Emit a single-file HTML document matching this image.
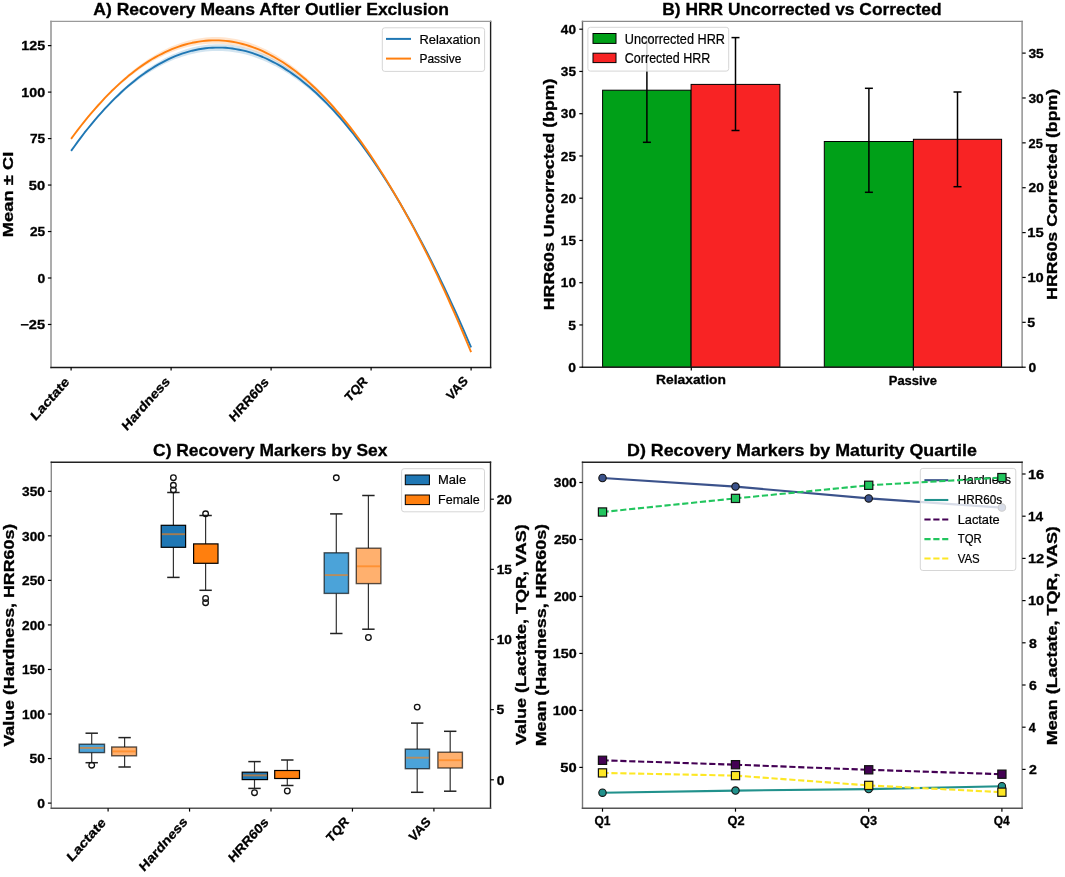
<!DOCTYPE html><html><head><meta charset="utf-8"><style>html,body{margin:0;padding:0;background:#fff;overflow:hidden}svg{display:block;will-change:transform;filter:blur(0.3px)}text{font-family:"Liberation Sans",sans-serif}</style></head><body>
<svg width="1065" height="877" viewBox="0 0 1065 877">
<rect width="1065" height="877" fill="#fff"/>
<polygon points="71.1,150.3 74.5,145.5 77.8,140.9 81.2,136.4 84.5,131.9 87.9,127.6 91.3,123.4 94.6,119.3 98.0,115.3 101.4,111.4 104.7,107.6 108.1,104.0 111.4,100.4 114.8,96.9 118.2,93.6 121.5,90.3 124.9,87.2 128.2,84.2 131.6,81.3 135.0,78.4 138.3,75.8 141.7,73.2 145.0,70.7 148.4,68.3 151.8,66.1 155.1,63.9 158.5,61.9 161.9,60.0 165.2,58.1 168.6,56.4 171.9,54.8 175.3,53.4 178.7,52.0 182.0,50.7 185.4,49.6 188.7,48.5 192.1,47.6 195.5,46.8 198.8,46.1 202.2,45.5 205.6,45.0 208.9,44.6 212.3,44.4 215.6,44.2 219.0,44.2 222.4,44.3 225.7,44.4 229.1,44.7 232.4,45.1 235.8,45.7 239.2,46.3 242.5,47.0 245.9,47.9 249.3,48.8 252.6,49.9 256.0,51.1 259.3,52.4 262.7,53.8 266.1,55.3 269.4,56.9 272.8,58.6 276.1,60.5 279.5,62.4 282.9,64.5 286.2,66.7 289.6,68.9 292.9,71.3 296.3,73.8 299.7,76.4 303.0,79.1 306.4,82.0 309.8,84.9 313.1,87.9 316.5,91.1 319.8,94.3 323.2,97.7 326.6,101.1 329.9,104.7 333.3,108.4 336.6,112.2 340.0,116.0 343.4,120.0 346.7,124.1 350.1,128.3 353.5,132.6 356.8,137.1 360.2,141.6 363.5,146.2 366.9,150.9 370.3,155.7 373.6,160.6 377.0,165.7 380.3,170.8 383.7,176.0 387.1,181.3 390.4,186.7 393.8,192.2 397.2,197.8 400.5,203.5 403.9,209.3 407.2,215.2 410.6,221.2 414.0,227.3 417.3,233.5 420.7,239.8 424.0,246.2 427.4,252.7 430.8,259.3 434.1,266.0 437.5,272.9 440.8,279.8 444.2,286.8 447.6,294.0 450.9,301.2 454.3,308.5 457.7,316.0 461.0,323.5 464.4,331.2 467.7,338.9 471.1,346.8 471.1,348.0 467.7,340.1 464.4,332.4 461.0,324.7 457.7,317.2 454.3,309.7 450.9,302.4 447.6,295.2 444.2,288.0 440.8,281.0 437.5,274.1 434.1,267.2 430.8,260.5 427.4,253.9 424.0,247.4 420.7,241.0 417.3,234.7 414.0,228.5 410.6,222.4 407.2,216.4 403.9,210.5 400.5,204.7 397.2,199.0 393.8,193.4 390.4,187.9 387.1,182.6 383.7,177.4 380.3,172.3 377.0,167.3 373.6,162.4 370.3,157.6 366.9,152.9 363.5,148.4 360.2,143.9 356.8,139.6 353.5,135.3 350.1,131.2 346.7,127.2 343.4,123.2 340.0,119.4 336.6,115.7 333.3,112.1 329.9,108.6 326.6,105.2 323.2,101.9 319.8,98.7 316.5,95.6 313.1,92.6 309.8,89.7 306.4,86.9 303.0,84.3 299.7,81.7 296.3,79.2 292.9,76.9 289.6,74.6 286.2,72.5 282.9,70.4 279.5,68.4 276.1,66.6 272.8,64.9 269.4,63.2 266.1,61.7 262.7,60.2 259.3,58.9 256.0,57.7 252.6,56.5 249.3,55.5 245.9,54.6 242.5,53.8 239.2,53.1 235.8,52.5 232.4,51.9 229.1,51.5 225.7,51.2 222.4,51.0 219.0,50.9 215.6,50.9 212.3,51.0 208.9,51.3 205.6,51.6 202.2,52.0 198.8,52.5 195.5,53.2 192.1,53.9 188.7,54.7 185.4,55.7 182.0,56.7 178.7,57.9 175.3,59.1 171.9,60.5 168.6,61.9 165.2,63.5 161.9,65.2 158.5,67.0 155.1,68.9 151.8,70.9 148.4,73.0 145.0,75.2 141.7,77.5 138.3,79.9 135.0,82.4 131.6,85.1 128.2,87.8 124.9,90.7 121.5,93.7 118.2,96.7 114.8,99.9 111.4,103.2 108.1,106.6 104.7,110.1 101.4,113.7 98.0,117.5 94.6,121.3 91.3,125.3 87.9,129.4 84.5,133.5 81.2,137.8 77.8,142.3 74.5,146.8 71.1,151.5" fill="#1f77b4" fill-opacity="0.2"/>
<polygon points="71.1,138.3 74.5,133.7 77.8,129.2 81.2,124.8 84.5,120.5 87.9,116.3 91.3,112.2 94.6,108.2 98.0,104.4 101.4,100.6 104.7,96.9 108.1,93.4 111.4,89.9 114.8,86.6 118.2,83.4 121.5,80.2 124.9,77.2 128.2,74.3 131.6,71.5 135.0,68.8 138.3,66.2 141.7,63.7 145.0,61.4 148.4,59.1 151.8,56.9 155.1,54.9 158.5,53.0 161.9,51.1 165.2,49.4 168.6,47.8 171.9,46.3 175.3,45.0 178.7,43.7 182.0,42.5 185.4,41.5 188.7,40.5 192.1,39.7 195.5,39.0 198.8,38.4 202.2,37.9 205.6,37.5 208.9,37.2 212.3,37.1 215.6,37.0 219.0,37.1 222.4,37.2 225.7,37.5 229.1,37.9 232.4,38.4 235.8,39.0 239.2,39.8 242.5,40.6 245.9,41.6 249.3,42.6 252.6,43.8 256.0,45.1 259.3,46.5 262.7,48.0 266.1,49.6 269.4,51.3 272.8,53.2 276.1,55.1 279.5,57.2 282.9,59.4 286.2,61.6 289.6,64.0 292.9,66.5 296.3,69.1 299.7,71.9 303.0,74.7 306.4,77.6 309.8,80.7 313.1,83.9 316.5,87.1 319.8,90.5 323.2,94.0 326.6,97.6 329.9,101.3 333.3,105.1 336.6,109.0 340.0,113.0 343.4,117.2 346.7,121.4 350.1,125.8 353.5,130.2 356.8,134.8 360.2,139.5 363.5,144.2 366.9,149.1 370.3,154.1 373.6,159.2 377.0,164.4 380.3,169.7 383.7,175.0 387.1,180.5 390.4,186.1 393.8,191.8 397.2,197.6 400.5,203.4 403.9,209.4 407.2,215.5 410.6,221.7 414.0,228.0 417.3,234.4 420.7,240.9 424.0,247.5 427.4,254.3 430.8,261.1 434.1,268.0 437.5,275.1 440.8,282.3 444.2,289.5 447.6,296.9 450.9,304.4 454.3,312.0 457.7,319.7 461.0,327.5 464.4,335.4 467.7,343.4 471.1,351.5 471.1,352.7 467.7,344.6 464.4,336.6 461.0,328.7 457.7,320.9 454.3,313.2 450.9,305.6 447.6,298.1 444.2,290.7 440.8,283.5 437.5,276.3 434.1,269.2 430.8,262.3 427.4,255.5 424.0,248.7 420.7,242.1 417.3,235.6 414.0,229.2 410.6,222.9 407.2,216.7 403.9,210.6 400.5,204.6 397.2,198.8 393.8,193.0 390.4,187.3 387.1,181.8 383.7,176.4 380.3,171.2 377.0,166.0 373.6,160.9 370.3,156.0 366.9,151.2 363.5,146.4 360.2,141.8 356.8,137.3 353.5,132.9 350.1,128.6 346.7,124.4 343.4,120.4 340.0,116.4 336.6,112.6 333.3,108.8 329.9,105.2 326.6,101.6 323.2,98.2 319.8,94.9 316.5,91.6 313.1,88.5 309.8,85.5 306.4,82.6 303.0,79.8 299.7,77.1 296.3,74.6 292.9,72.1 289.6,69.7 286.2,67.4 282.9,65.3 279.5,63.2 276.1,61.2 272.8,59.4 269.4,57.6 266.1,56.0 262.7,54.4 259.3,53.0 256.0,51.7 252.6,50.4 249.3,49.3 245.9,48.3 242.5,47.4 239.2,46.5 235.8,45.8 232.4,45.2 229.1,44.7 225.7,44.3 222.4,44.0 219.0,43.8 215.6,43.7 212.3,43.7 208.9,43.8 205.6,44.1 202.2,44.4 198.8,44.8 195.5,45.3 192.1,46.0 188.7,46.7 185.4,47.6 182.0,48.5 178.7,49.6 175.3,50.7 171.9,52.0 168.6,53.3 165.2,54.8 161.9,56.4 158.5,58.1 155.1,59.8 151.8,61.7 148.4,63.7 145.0,65.8 141.7,68.1 138.3,70.4 135.0,72.8 131.6,75.3 128.2,78.0 124.9,80.7 121.5,83.6 118.2,86.5 114.8,89.6 111.4,92.8 108.1,96.0 104.7,99.4 101.4,102.9 98.0,106.5 94.6,110.3 91.3,114.1 87.9,118.0 84.5,122.1 81.2,126.3 77.8,130.5 74.5,134.9 71.1,139.5" fill="#ff7f0e" fill-opacity="0.2"/>
<polyline fill="none" stroke="#1f77b4" stroke-width="1.9" stroke-linejoin="round" points="71.1,150.9 74.5,146.2 77.8,141.6 81.2,137.1 84.5,132.7 87.9,128.5 91.3,124.4 94.6,120.3 98.0,116.4 101.4,112.6 104.7,108.9 108.1,105.3 111.4,101.8 114.8,98.4 118.2,95.2 121.5,92.0 124.9,88.9 128.2,86.0 131.6,83.2 135.0,80.4 138.3,77.8 141.7,75.3 145.0,72.9 148.4,70.6 151.8,68.5 155.1,66.4 158.5,64.4 161.9,62.6 165.2,60.8 168.6,59.2 171.9,57.7 175.3,56.2 178.7,54.9 182.0,53.7 185.4,52.6 188.7,51.6 192.1,50.7 195.5,50.0 198.8,49.3 202.2,48.7 205.6,48.3 208.9,47.9 212.3,47.7 215.6,47.6 219.0,47.6 222.4,47.6 225.7,47.8 229.1,48.1 232.4,48.5 235.8,49.1 239.2,49.7 242.5,50.4 245.9,51.2 249.3,52.2 252.6,53.2 256.0,54.4 259.3,55.6 262.7,57.0 266.1,58.5 269.4,60.1 272.8,61.8 276.1,63.5 279.5,65.4 282.9,67.4 286.2,69.6 289.6,71.8 292.9,74.1 296.3,76.5 299.7,79.1 303.0,81.7 306.4,84.5 309.8,87.3 313.1,90.3 316.5,93.3 319.8,96.5 323.2,99.8 326.6,103.2 329.9,106.6 333.3,110.2 336.6,113.9 340.0,117.7 343.4,121.6 346.7,125.6 350.1,129.8 353.5,134.0 356.8,138.3 360.2,142.7 363.5,147.3 366.9,151.9 370.3,156.7 373.6,161.5 377.0,166.5 380.3,171.5 383.7,176.7 387.1,182.0 390.4,187.3 393.8,192.8 397.2,198.4 400.5,204.1 403.9,209.9 407.2,215.8 410.6,221.8 414.0,227.9 417.3,234.1 420.7,240.4 424.0,246.8 427.4,253.3 430.8,259.9 434.1,266.6 437.5,273.5 440.8,280.4 444.2,287.4 447.6,294.6 450.9,301.8 454.3,309.1 457.7,316.6 461.0,324.1 464.4,331.8 467.7,339.5 471.1,347.4"/>
<polyline fill="none" stroke="#ff7f0e" stroke-width="1.9" stroke-linejoin="round" points="71.1,138.9 74.5,134.3 77.8,129.9 81.2,125.5 84.5,121.3 87.9,117.2 91.3,113.2 94.6,109.3 98.0,105.5 101.4,101.8 104.7,98.2 108.1,94.7 111.4,91.3 114.8,88.1 118.2,84.9 121.5,81.9 124.9,79.0 128.2,76.1 131.6,73.4 135.0,70.8 138.3,68.3 141.7,65.9 145.0,63.6 148.4,61.4 151.8,59.3 155.1,57.4 158.5,55.5 161.9,53.8 165.2,52.1 168.6,50.6 171.9,49.2 175.3,47.8 178.7,46.6 182.0,45.5 185.4,44.5 188.7,43.6 192.1,42.8 195.5,42.2 198.8,41.6 202.2,41.1 205.6,40.8 208.9,40.5 212.3,40.4 215.6,40.4 219.0,40.4 222.4,40.6 225.7,40.9 229.1,41.3 232.4,41.8 235.8,42.4 239.2,43.2 242.5,44.0 245.9,44.9 249.3,46.0 252.6,47.1 256.0,48.4 259.3,49.7 262.7,51.2 266.1,52.8 269.4,54.5 272.8,56.3 276.1,58.2 279.5,60.2 282.9,62.3 286.2,64.5 289.6,66.9 292.9,69.3 296.3,71.8 299.7,74.5 303.0,77.3 306.4,80.1 309.8,83.1 313.1,86.2 316.5,89.4 319.8,92.7 323.2,96.1 326.6,99.6 329.9,103.2 333.3,107.0 336.6,110.8 340.0,114.7 343.4,118.8 346.7,122.9 350.1,127.2 353.5,131.6 356.8,136.0 360.2,140.6 363.5,145.3 366.9,150.1 370.3,155.0 373.6,160.1 377.0,165.2 380.3,170.4 383.7,175.7 387.1,181.2 390.4,186.7 393.8,192.4 397.2,198.2 400.5,204.0 403.9,210.0 407.2,216.1 410.6,222.3 414.0,228.6 417.3,235.0 420.7,241.5 424.0,248.1 427.4,254.9 430.8,261.7 434.1,268.6 437.5,275.7 440.8,282.9 444.2,290.1 447.6,297.5 450.9,305.0 454.3,312.6 457.7,320.3 461.0,328.1 464.4,336.0 467.7,344.0 471.1,352.1"/>
<line x1="51.0" y1="20.7" x2="51.0" y2="368.15" stroke="#8a8a8a" stroke-width="1.4"/>
<line x1="490.6" y1="20.7" x2="490.6" y2="368.15" stroke="#1e1e1e" stroke-width="1.4"/>
<line x1="50.3" y1="21.4" x2="491.3" y2="21.4" stroke="#9a9a9a" stroke-width="1.4"/>
<line x1="50.3" y1="367.45" x2="491.3" y2="367.45" stroke="#1a1a1a" stroke-width="1.4"/>
<line x1="47.90" y1="324.48" x2="51.30" y2="324.48" stroke="#000" stroke-width="1.2"/>
<line x1="47.90" y1="278.00" x2="51.30" y2="278.00" stroke="#000" stroke-width="1.2"/>
<line x1="47.90" y1="231.53" x2="51.30" y2="231.53" stroke="#000" stroke-width="1.2"/>
<line x1="47.90" y1="185.05" x2="51.30" y2="185.05" stroke="#000" stroke-width="1.2"/>
<line x1="47.90" y1="138.57" x2="51.30" y2="138.57" stroke="#000" stroke-width="1.2"/>
<line x1="47.90" y1="92.10" x2="51.30" y2="92.10" stroke="#000" stroke-width="1.2"/>
<line x1="47.90" y1="45.62" x2="51.30" y2="45.62" stroke="#000" stroke-width="1.2"/>
<line x1="71.10" y1="367.20" x2="71.10" y2="370.60" stroke="#000" stroke-width="1.2"/>
<line x1="171.10" y1="367.20" x2="171.10" y2="370.60" stroke="#000" stroke-width="1.2"/>
<line x1="271.10" y1="367.20" x2="271.10" y2="370.60" stroke="#000" stroke-width="1.2"/>
<line x1="371.10" y1="367.20" x2="371.10" y2="370.60" stroke="#000" stroke-width="1.2"/>
<line x1="471.10" y1="367.20" x2="471.10" y2="370.60" stroke="#000" stroke-width="1.2"/>
<rect x="382.3" y="27.8" width="102.3" height="43.6" rx="2.5" fill="#fff" fill-opacity="0.8" stroke="#d6d6d6" stroke-width="1"/>
<line x1="386.00" y1="38.90" x2="411.00" y2="38.90" stroke="#1f77b4" stroke-width="2"/>
<line x1="386.00" y1="58.60" x2="411.00" y2="58.60" stroke="#ff7f0e" stroke-width="2"/>
<text x="271.16" y="15.00" font-size="16.2" font-weight="bold" text-anchor="middle" textLength="355.58" lengthAdjust="spacingAndGlyphs" stroke="#000" stroke-width="0.3">A) Recovery Means After Outlier Exclusion</text>
<text x="45.11" y="329.18" font-size="12.5" font-weight="bold" text-anchor="end" textLength="24.77" lengthAdjust="spacingAndGlyphs" stroke="#000" stroke-width="0.3">−25</text>
<text x="45.25" y="282.70" font-size="12.5" font-weight="bold" text-anchor="end" textLength="7.73" lengthAdjust="spacingAndGlyphs" stroke="#000" stroke-width="0.3">0</text>
<text x="45.11" y="236.22" font-size="12.5" font-weight="bold" text-anchor="end" textLength="15.20" lengthAdjust="spacingAndGlyphs" stroke="#000" stroke-width="0.3">25</text>
<text x="45.14" y="189.75" font-size="12.5" font-weight="bold" text-anchor="end" textLength="16.28" lengthAdjust="spacingAndGlyphs" stroke="#000" stroke-width="0.3">50</text>
<text x="45.11" y="143.27" font-size="12.5" font-weight="bold" text-anchor="end" textLength="15.20" lengthAdjust="spacingAndGlyphs" stroke="#000" stroke-width="0.3">75</text>
<text x="45.16" y="96.80" font-size="12.5" font-weight="bold" text-anchor="end" textLength="23.79" lengthAdjust="spacingAndGlyphs" stroke="#000" stroke-width="0.3">100</text>
<text x="45.16" y="50.33" font-size="12.5" font-weight="bold" text-anchor="end" textLength="23.79" lengthAdjust="spacingAndGlyphs" stroke="#000" stroke-width="0.3">125</text>
<text x="419.42" y="43.60" font-size="13.5" font-weight="normal" text-anchor="start" textLength="60.95" lengthAdjust="spacingAndGlyphs" stroke="#000" stroke-width="0.22">Relaxation</text>
<text x="419.50" y="62.90" font-size="13.5" font-weight="normal" text-anchor="start" textLength="41.77" lengthAdjust="spacingAndGlyphs" stroke="#000" stroke-width="0.22">Passive</text>
<text transform="translate(13.20,194.41) rotate(-90)" font-size="14" font-weight="bold" text-anchor="middle" textLength="85.70" lengthAdjust="spacingAndGlyphs" stroke="#000" stroke-width="0.3">Mean ± CI</text>
<text transform="translate(70.03,382.62) scale(0.887,1) rotate(-45)" font-size="13.5" font-weight="bold" text-anchor="end" textLength="55.04" lengthAdjust="spacingAndGlyphs" stroke="#000" stroke-width="0.3">Lactate</text>
<text transform="translate(170.48,382.10) scale(0.887,1) rotate(-45)" font-size="13.5" font-weight="bold" text-anchor="end" textLength="69.73" lengthAdjust="spacingAndGlyphs" stroke="#000" stroke-width="0.3">Hardness</text>
<text transform="translate(269.45,382.83) scale(0.887,1) rotate(-45)" font-size="13.5" font-weight="bold" text-anchor="end" textLength="56.45" lengthAdjust="spacingAndGlyphs" stroke="#000" stroke-width="0.3">HRR60s</text>
<text transform="translate(368.03,382.06) scale(0.887,1) rotate(-45)" font-size="13.5" font-weight="bold" text-anchor="end" textLength="29.22" lengthAdjust="spacingAndGlyphs" stroke="#000" stroke-width="0.3">TQR</text>
<text transform="translate(468.49,381.69) scale(0.887,1) rotate(-45)" font-size="13.5" font-weight="bold" text-anchor="end" textLength="27.63" lengthAdjust="spacingAndGlyphs" stroke="#000" stroke-width="0.3">VAS</text>
<rect x="602.60" y="90.20" width="88.50" height="277.00" fill="#00a018" stroke="#000" stroke-width="1"/>
<rect x="691.10" y="84.40" width="88.80" height="282.80" fill="#f82324" stroke="#000" stroke-width="1"/>
<rect x="824.30" y="141.50" width="89.10" height="225.70" fill="#00a018" stroke="#000" stroke-width="1"/>
<rect x="913.40" y="139.30" width="88.20" height="227.90" fill="#f82324" stroke="#000" stroke-width="1"/>
<line x1="646.90" y1="38.10" x2="646.90" y2="142.30" stroke="#000" stroke-width="1.5"/>
<line x1="642.90" y1="38.10" x2="650.90" y2="38.10" stroke="#000" stroke-width="1.5"/>
<line x1="642.90" y1="142.30" x2="650.90" y2="142.30" stroke="#000" stroke-width="1.5"/>
<line x1="735.50" y1="37.60" x2="735.50" y2="130.50" stroke="#000" stroke-width="1.5"/>
<line x1="731.50" y1="37.60" x2="739.50" y2="37.60" stroke="#000" stroke-width="1.5"/>
<line x1="731.50" y1="130.50" x2="739.50" y2="130.50" stroke="#000" stroke-width="1.5"/>
<line x1="868.90" y1="88.30" x2="868.90" y2="192.30" stroke="#000" stroke-width="1.5"/>
<line x1="864.90" y1="88.30" x2="872.90" y2="88.30" stroke="#000" stroke-width="1.5"/>
<line x1="864.90" y1="192.30" x2="872.90" y2="192.30" stroke="#000" stroke-width="1.5"/>
<line x1="957.50" y1="92.00" x2="957.50" y2="186.70" stroke="#000" stroke-width="1.5"/>
<line x1="953.50" y1="92.00" x2="961.50" y2="92.00" stroke="#000" stroke-width="1.5"/>
<line x1="953.50" y1="186.70" x2="961.50" y2="186.70" stroke="#000" stroke-width="1.5"/>
<line x1="582.5" y1="20.7" x2="582.5" y2="367.9" stroke="#666" stroke-width="1.4"/>
<line x1="1022.1" y1="20.7" x2="1022.1" y2="367.9" stroke="#8a8a8a" stroke-width="1.4"/>
<line x1="581.8" y1="21.4" x2="1022.8000000000001" y2="21.4" stroke="#8a8a8a" stroke-width="1.4"/>
<line x1="581.8" y1="367.2" x2="1022.8000000000001" y2="367.2" stroke="#222" stroke-width="1.4"/>
<line x1="579.30" y1="367.20" x2="582.70" y2="367.20" stroke="#000" stroke-width="1.2"/>
<line x1="579.30" y1="324.95" x2="582.70" y2="324.95" stroke="#000" stroke-width="1.2"/>
<line x1="579.30" y1="282.70" x2="582.70" y2="282.70" stroke="#000" stroke-width="1.2"/>
<line x1="579.30" y1="240.45" x2="582.70" y2="240.45" stroke="#000" stroke-width="1.2"/>
<line x1="579.30" y1="198.20" x2="582.70" y2="198.20" stroke="#000" stroke-width="1.2"/>
<line x1="579.30" y1="155.95" x2="582.70" y2="155.95" stroke="#000" stroke-width="1.2"/>
<line x1="579.30" y1="113.70" x2="582.70" y2="113.70" stroke="#000" stroke-width="1.2"/>
<line x1="579.30" y1="71.45" x2="582.70" y2="71.45" stroke="#000" stroke-width="1.2"/>
<line x1="579.30" y1="29.20" x2="582.70" y2="29.20" stroke="#000" stroke-width="1.2"/>
<line x1="1022.30" y1="367.20" x2="1025.70" y2="367.20" stroke="#000" stroke-width="1.2"/>
<line x1="1022.30" y1="322.33" x2="1025.70" y2="322.33" stroke="#000" stroke-width="1.2"/>
<line x1="1022.30" y1="277.46" x2="1025.70" y2="277.46" stroke="#000" stroke-width="1.2"/>
<line x1="1022.30" y1="232.59" x2="1025.70" y2="232.59" stroke="#000" stroke-width="1.2"/>
<line x1="1022.30" y1="187.72" x2="1025.70" y2="187.72" stroke="#000" stroke-width="1.2"/>
<line x1="1022.30" y1="142.85" x2="1025.70" y2="142.85" stroke="#000" stroke-width="1.2"/>
<line x1="1022.30" y1="97.98" x2="1025.70" y2="97.98" stroke="#000" stroke-width="1.2"/>
<line x1="1022.30" y1="53.11" x2="1025.70" y2="53.11" stroke="#000" stroke-width="1.2"/>
<line x1="691.30" y1="367.20" x2="691.30" y2="370.60" stroke="#000" stroke-width="1.2"/>
<line x1="913.30" y1="367.20" x2="913.30" y2="370.60" stroke="#000" stroke-width="1.2"/>
<rect x="587.9" y="27.3" width="140.8" height="43.8" rx="2.5" fill="#fff" fill-opacity="0.8" stroke="#d6d6d6" stroke-width="1"/>
<rect x="593.00" y="33.50" width="23.00" height="9.90" fill="#00a018" stroke="#000" stroke-width="1"/>
<rect x="593.00" y="53.20" width="23.00" height="9.40" fill="#f82324" stroke="#000" stroke-width="1"/>
<text x="801.88" y="14.80" font-size="16.2" font-weight="bold" text-anchor="middle" textLength="279.26" lengthAdjust="spacingAndGlyphs" stroke="#000" stroke-width="0.3">B) HRR Uncorrected vs Corrected</text>
<text x="576.00" y="371.90" font-size="12.5" font-weight="bold" text-anchor="end" textLength="7.73" lengthAdjust="spacingAndGlyphs" stroke="#000" stroke-width="0.3">0</text>
<text x="576.00" y="329.65" font-size="12.5" font-weight="bold" text-anchor="end" textLength="7.73" lengthAdjust="spacingAndGlyphs" stroke="#000" stroke-width="0.3">5</text>
<text x="576.00" y="287.40" font-size="12.5" font-weight="bold" text-anchor="end" textLength="15.13" lengthAdjust="spacingAndGlyphs" stroke="#000" stroke-width="0.3">10</text>
<text x="576.00" y="245.15" font-size="12.5" font-weight="bold" text-anchor="end" textLength="15.13" lengthAdjust="spacingAndGlyphs" stroke="#000" stroke-width="0.3">15</text>
<text x="576.00" y="202.90" font-size="12.5" font-weight="bold" text-anchor="end" textLength="15.13" lengthAdjust="spacingAndGlyphs" stroke="#000" stroke-width="0.3">20</text>
<text x="576.00" y="160.65" font-size="12.5" font-weight="bold" text-anchor="end" textLength="15.13" lengthAdjust="spacingAndGlyphs" stroke="#000" stroke-width="0.3">25</text>
<text x="576.00" y="118.40" font-size="12.5" font-weight="bold" text-anchor="end" textLength="15.13" lengthAdjust="spacingAndGlyphs" stroke="#000" stroke-width="0.3">30</text>
<text x="576.00" y="76.15" font-size="12.5" font-weight="bold" text-anchor="end" textLength="15.13" lengthAdjust="spacingAndGlyphs" stroke="#000" stroke-width="0.3">35</text>
<text x="576.00" y="33.90" font-size="12.5" font-weight="bold" text-anchor="end" textLength="15.13" lengthAdjust="spacingAndGlyphs" stroke="#000" stroke-width="0.3">40</text>
<text x="1028.57" y="371.90" font-size="12.5" font-weight="bold" text-anchor="start" textLength="7.73" lengthAdjust="spacingAndGlyphs" stroke="#000" stroke-width="0.3">0</text>
<text x="1027.35" y="327.03" font-size="12.5" font-weight="bold" text-anchor="start" textLength="7.90" lengthAdjust="spacingAndGlyphs" stroke="#000" stroke-width="0.3">5</text>
<text x="1027.42" y="282.16" font-size="12.5" font-weight="bold" text-anchor="start" textLength="16.36" lengthAdjust="spacingAndGlyphs" stroke="#000" stroke-width="0.3">10</text>
<text x="1027.38" y="237.29" font-size="12.5" font-weight="bold" text-anchor="start" textLength="16.44" lengthAdjust="spacingAndGlyphs" stroke="#000" stroke-width="0.3">15</text>
<text x="1028.56" y="192.42" font-size="12.5" font-weight="bold" text-anchor="start" textLength="15.26" lengthAdjust="spacingAndGlyphs" stroke="#000" stroke-width="0.3">20</text>
<text x="1028.54" y="147.55" font-size="12.5" font-weight="bold" text-anchor="start" textLength="14.25" lengthAdjust="spacingAndGlyphs" stroke="#000" stroke-width="0.3">25</text>
<text x="1028.43" y="102.68" font-size="12.5" font-weight="bold" text-anchor="start" textLength="15.34" lengthAdjust="spacingAndGlyphs" stroke="#000" stroke-width="0.3">30</text>
<text x="1028.46" y="57.81" font-size="12.5" font-weight="bold" text-anchor="start" textLength="15.34" lengthAdjust="spacingAndGlyphs" stroke="#000" stroke-width="0.3">35</text>
<text x="691.00" y="384.30" font-size="12.5" font-weight="bold" text-anchor="middle" textLength="69.76" lengthAdjust="spacingAndGlyphs" stroke="#000" stroke-width="0.3">Relaxation</text>
<text x="912.91" y="384.50" font-size="12.5" font-weight="bold" text-anchor="middle" textLength="48.24" lengthAdjust="spacingAndGlyphs" stroke="#000" stroke-width="0.3">Passive</text>
<text x="624.82" y="43.60" font-size="14" font-weight="normal" text-anchor="start" textLength="100.16" lengthAdjust="spacingAndGlyphs" stroke="#000" stroke-width="0.22">Uncorrected HRR</text>
<text x="624.83" y="62.80" font-size="14" font-weight="normal" text-anchor="start" textLength="85.44" lengthAdjust="spacingAndGlyphs" stroke="#000" stroke-width="0.22">Corrected HRR</text>
<text transform="translate(554.20,194.34) rotate(-90)" font-size="14" font-weight="bold" text-anchor="middle" textLength="231.72" lengthAdjust="spacingAndGlyphs" stroke="#000" stroke-width="0.3">HRR60s Uncorrected (bpm)</text>
<text transform="translate(1057.00,194.33) rotate(-90)" font-size="14" font-weight="bold" text-anchor="middle" textLength="211.10" lengthAdjust="spacingAndGlyphs" stroke="#000" stroke-width="0.3">HRR60s Corrected (bpm)</text>
<line x1="91.70" y1="733.20" x2="91.70" y2="744.20" stroke="#333" stroke-width="1.2"/>
<line x1="91.70" y1="752.60" x2="91.70" y2="762.70" stroke="#333" stroke-width="1.2"/>
<line x1="85.50" y1="733.20" x2="97.90" y2="733.20" stroke="#222" stroke-width="1.5"/>
<line x1="85.50" y1="762.70" x2="97.90" y2="762.70" stroke="#222" stroke-width="1.5"/>
<rect x="79.20" y="744.20" width="25.30" height="8.40" fill="#4ba3d9" stroke="#000" stroke-width="1.4" stroke-opacity="0.65"/>
<line x1="79.90" y1="747.90" x2="103.80" y2="747.90" stroke="#ff7f0e" stroke-width="1.9" stroke-opacity="0.6"/>
<circle cx="91.7" cy="765.2" r="2.8" fill="none" stroke="#111" stroke-width="1.3"/>
<line x1="124.60" y1="737.60" x2="124.60" y2="747.00" stroke="#333" stroke-width="1.2"/>
<line x1="124.60" y1="755.80" x2="124.60" y2="767.00" stroke="#333" stroke-width="1.2"/>
<line x1="118.40" y1="737.60" x2="130.80" y2="737.60" stroke="#222" stroke-width="1.5"/>
<line x1="118.40" y1="767.00" x2="130.80" y2="767.00" stroke="#222" stroke-width="1.5"/>
<rect x="111.70" y="747.00" width="24.80" height="8.80" fill="#ffb06e" stroke="#000" stroke-width="1.4" stroke-opacity="0.65"/>
<line x1="112.40" y1="751.40" x2="135.80" y2="751.40" stroke="#ff7f0e" stroke-width="1.9" stroke-opacity="0.6"/>
<line x1="173.40" y1="492.50" x2="173.40" y2="525.30" stroke="#333" stroke-width="1.2"/>
<line x1="173.40" y1="547.30" x2="173.40" y2="577.40" stroke="#333" stroke-width="1.2"/>
<line x1="167.20" y1="492.50" x2="179.60" y2="492.50" stroke="#222" stroke-width="1.5"/>
<line x1="167.20" y1="577.40" x2="179.60" y2="577.40" stroke="#222" stroke-width="1.5"/>
<rect x="161.20" y="525.30" width="24.40" height="22.00" fill="#1f77b4" stroke="#000" stroke-width="1.2"/>
<line x1="161.90" y1="534.20" x2="184.90" y2="534.20" stroke="#ff7f0e" stroke-width="1.9" stroke-opacity="0.6"/>
<circle cx="173.4" cy="477.7" r="2.8" fill="none" stroke="#111" stroke-width="1.3"/>
<circle cx="173.4" cy="485.3" r="2.8" fill="none" stroke="#111" stroke-width="1.3"/>
<circle cx="173.4" cy="489.9" r="2.8" fill="none" stroke="#111" stroke-width="1.3"/>
<line x1="205.60" y1="515.50" x2="205.60" y2="543.90" stroke="#333" stroke-width="1.2"/>
<line x1="205.60" y1="563.30" x2="205.60" y2="590.30" stroke="#333" stroke-width="1.2"/>
<line x1="199.40" y1="515.50" x2="211.80" y2="515.50" stroke="#222" stroke-width="1.5"/>
<line x1="199.40" y1="590.30" x2="211.80" y2="590.30" stroke="#222" stroke-width="1.5"/>
<rect x="193.60" y="543.90" width="24.40" height="19.40" fill="#ff7f0e" stroke="#000" stroke-width="1.2"/>
<circle cx="205.6" cy="513.8" r="2.8" fill="none" stroke="#111" stroke-width="1.3"/>
<circle cx="205.6" cy="598.5" r="2.8" fill="none" stroke="#111" stroke-width="1.3"/>
<circle cx="205.6" cy="602.7" r="2.8" fill="none" stroke="#111" stroke-width="1.3"/>
<line x1="254.50" y1="761.60" x2="254.50" y2="772.20" stroke="#333" stroke-width="1.2"/>
<line x1="254.50" y1="779.60" x2="254.50" y2="788.40" stroke="#333" stroke-width="1.2"/>
<line x1="248.30" y1="761.60" x2="260.70" y2="761.60" stroke="#222" stroke-width="1.5"/>
<line x1="248.30" y1="788.40" x2="260.70" y2="788.40" stroke="#222" stroke-width="1.5"/>
<rect x="242.20" y="772.20" width="25.30" height="7.40" fill="#1f77b4" stroke="#000" stroke-width="1.2"/>
<line x1="242.90" y1="775.40" x2="266.80" y2="775.40" stroke="#ff7f0e" stroke-width="1.9" stroke-opacity="0.6"/>
<circle cx="254.5" cy="792.7" r="2.8" fill="none" stroke="#111" stroke-width="1.3"/>
<line x1="287.30" y1="760.00" x2="287.30" y2="770.50" stroke="#333" stroke-width="1.2"/>
<line x1="287.30" y1="778.50" x2="287.30" y2="785.50" stroke="#333" stroke-width="1.2"/>
<line x1="281.10" y1="760.00" x2="293.50" y2="760.00" stroke="#222" stroke-width="1.5"/>
<line x1="281.10" y1="785.50" x2="293.50" y2="785.50" stroke="#222" stroke-width="1.5"/>
<rect x="274.70" y="770.50" width="24.80" height="8.00" fill="#ff7f0e" stroke="#000" stroke-width="1.2"/>
<circle cx="287.3" cy="791.0" r="2.8" fill="none" stroke="#111" stroke-width="1.3"/>
<line x1="336.30" y1="513.90" x2="336.30" y2="552.80" stroke="#333" stroke-width="1.2"/>
<line x1="336.30" y1="593.40" x2="336.30" y2="633.50" stroke="#333" stroke-width="1.2"/>
<line x1="330.10" y1="513.90" x2="342.50" y2="513.90" stroke="#222" stroke-width="1.5"/>
<line x1="330.10" y1="633.50" x2="342.50" y2="633.50" stroke="#222" stroke-width="1.5"/>
<rect x="324.20" y="552.80" width="24.30" height="40.60" fill="#4ba3d9" stroke="#000" stroke-width="1.4" stroke-opacity="0.65"/>
<line x1="324.90" y1="575.10" x2="347.80" y2="575.10" stroke="#ff7f0e" stroke-width="1.9" stroke-opacity="0.6"/>
<circle cx="336.3" cy="477.8" r="2.8" fill="none" stroke="#111" stroke-width="1.3"/>
<line x1="368.40" y1="495.50" x2="368.40" y2="548.20" stroke="#333" stroke-width="1.2"/>
<line x1="368.40" y1="583.60" x2="368.40" y2="629.20" stroke="#333" stroke-width="1.2"/>
<line x1="362.20" y1="495.50" x2="374.60" y2="495.50" stroke="#222" stroke-width="1.5"/>
<line x1="362.20" y1="629.20" x2="374.60" y2="629.20" stroke="#222" stroke-width="1.5"/>
<rect x="356.30" y="548.20" width="24.60" height="35.40" fill="#ffb06e" stroke="#000" stroke-width="1.4" stroke-opacity="0.65"/>
<line x1="357.00" y1="566.30" x2="380.20" y2="566.30" stroke="#ff7f0e" stroke-width="1.9" stroke-opacity="0.6"/>
<circle cx="368.4" cy="637.5" r="2.8" fill="none" stroke="#111" stroke-width="1.3"/>
<line x1="417.20" y1="723.10" x2="417.20" y2="749.10" stroke="#333" stroke-width="1.2"/>
<line x1="417.20" y1="768.70" x2="417.20" y2="792.30" stroke="#333" stroke-width="1.2"/>
<line x1="411.00" y1="723.10" x2="423.40" y2="723.10" stroke="#222" stroke-width="1.5"/>
<line x1="411.00" y1="792.30" x2="423.40" y2="792.30" stroke="#222" stroke-width="1.5"/>
<rect x="405.30" y="749.10" width="24.20" height="19.60" fill="#4ba3d9" stroke="#000" stroke-width="1.4" stroke-opacity="0.65"/>
<line x1="406.00" y1="757.70" x2="428.80" y2="757.70" stroke="#ff7f0e" stroke-width="1.9" stroke-opacity="0.6"/>
<circle cx="417.2" cy="707.1" r="2.8" fill="none" stroke="#111" stroke-width="1.3"/>
<line x1="450.20" y1="731.30" x2="450.20" y2="752.20" stroke="#333" stroke-width="1.2"/>
<line x1="450.20" y1="768.00" x2="450.20" y2="791.20" stroke="#333" stroke-width="1.2"/>
<line x1="444.00" y1="731.30" x2="456.40" y2="731.30" stroke="#222" stroke-width="1.5"/>
<line x1="444.00" y1="791.20" x2="456.40" y2="791.20" stroke="#222" stroke-width="1.5"/>
<rect x="437.90" y="752.20" width="24.50" height="15.80" fill="#ffb06e" stroke="#000" stroke-width="1.4" stroke-opacity="0.65"/>
<line x1="438.60" y1="760.20" x2="461.70" y2="760.20" stroke="#ff7f0e" stroke-width="1.9" stroke-opacity="0.6"/>
<line x1="51.3" y1="461.6" x2="51.3" y2="808.9000000000001" stroke="#8a8a8a" stroke-width="1.4"/>
<line x1="490.5" y1="461.6" x2="490.5" y2="808.9000000000001" stroke="#222" stroke-width="1.4"/>
<line x1="50.599999999999994" y1="462.3" x2="491.2" y2="462.3" stroke="#222" stroke-width="1.4"/>
<line x1="50.599999999999994" y1="808.2" x2="491.2" y2="808.2" stroke="#555" stroke-width="1.4"/>
<line x1="47.90" y1="803.10" x2="51.30" y2="803.10" stroke="#000" stroke-width="1.2"/>
<line x1="47.90" y1="758.56" x2="51.30" y2="758.56" stroke="#000" stroke-width="1.2"/>
<line x1="47.90" y1="714.01" x2="51.30" y2="714.01" stroke="#000" stroke-width="1.2"/>
<line x1="47.90" y1="669.47" x2="51.30" y2="669.47" stroke="#000" stroke-width="1.2"/>
<line x1="47.90" y1="624.92" x2="51.30" y2="624.92" stroke="#000" stroke-width="1.2"/>
<line x1="47.90" y1="580.38" x2="51.30" y2="580.38" stroke="#000" stroke-width="1.2"/>
<line x1="47.90" y1="535.83" x2="51.30" y2="535.83" stroke="#000" stroke-width="1.2"/>
<line x1="47.90" y1="491.29" x2="51.30" y2="491.29" stroke="#000" stroke-width="1.2"/>
<line x1="490.50" y1="779.80" x2="493.90" y2="779.80" stroke="#000" stroke-width="1.2"/>
<line x1="490.50" y1="709.65" x2="493.90" y2="709.65" stroke="#000" stroke-width="1.2"/>
<line x1="490.50" y1="639.50" x2="493.90" y2="639.50" stroke="#000" stroke-width="1.2"/>
<line x1="490.50" y1="569.35" x2="493.90" y2="569.35" stroke="#000" stroke-width="1.2"/>
<line x1="490.50" y1="499.20" x2="493.90" y2="499.20" stroke="#000" stroke-width="1.2"/>
<line x1="108.10" y1="808.20" x2="108.10" y2="811.60" stroke="#000" stroke-width="1.2"/>
<line x1="189.55" y1="808.20" x2="189.55" y2="811.60" stroke="#000" stroke-width="1.2"/>
<line x1="271.00" y1="808.20" x2="271.00" y2="811.60" stroke="#000" stroke-width="1.2"/>
<line x1="352.45" y1="808.20" x2="352.45" y2="811.60" stroke="#000" stroke-width="1.2"/>
<line x1="433.90" y1="808.20" x2="433.90" y2="811.60" stroke="#000" stroke-width="1.2"/>
<rect x="401.6" y="468.7" width="82.9" height="43.1" rx="2.5" fill="#fff" fill-opacity="0.8" stroke="#d6d6d6" stroke-width="1"/>
<rect x="405.30" y="475.00" width="24.10" height="9.70" fill="#1f77b4" stroke="#000" stroke-width="1"/>
<rect x="405.30" y="495.00" width="24.10" height="9.60" fill="#ff7f0e" stroke="#000" stroke-width="1"/>
<text x="270.25" y="455.80" font-size="16.2" font-weight="bold" text-anchor="middle" textLength="234.39" lengthAdjust="spacingAndGlyphs" stroke="#000" stroke-width="0.3">C) Recovery Markers by Sex</text>
<text x="44.93" y="807.80" font-size="12.5" font-weight="bold" text-anchor="end" textLength="7.73" lengthAdjust="spacingAndGlyphs" stroke="#000" stroke-width="0.3">0</text>
<text x="44.88" y="763.26" font-size="12.5" font-weight="bold" text-anchor="end" textLength="15.33" lengthAdjust="spacingAndGlyphs" stroke="#000" stroke-width="0.3">50</text>
<text x="44.82" y="718.71" font-size="12.5" font-weight="bold" text-anchor="end" textLength="22.75" lengthAdjust="spacingAndGlyphs" stroke="#000" stroke-width="0.3">100</text>
<text x="44.82" y="674.17" font-size="12.5" font-weight="bold" text-anchor="end" textLength="22.75" lengthAdjust="spacingAndGlyphs" stroke="#000" stroke-width="0.3">150</text>
<text x="44.84" y="629.62" font-size="12.5" font-weight="bold" text-anchor="end" textLength="22.75" lengthAdjust="spacingAndGlyphs" stroke="#000" stroke-width="0.3">200</text>
<text x="44.84" y="585.08" font-size="12.5" font-weight="bold" text-anchor="end" textLength="22.75" lengthAdjust="spacingAndGlyphs" stroke="#000" stroke-width="0.3">250</text>
<text x="44.84" y="540.53" font-size="12.5" font-weight="bold" text-anchor="end" textLength="22.75" lengthAdjust="spacingAndGlyphs" stroke="#000" stroke-width="0.3">300</text>
<text x="44.84" y="495.99" font-size="12.5" font-weight="bold" text-anchor="end" textLength="22.75" lengthAdjust="spacingAndGlyphs" stroke="#000" stroke-width="0.3">350</text>
<text x="496.69" y="784.50" font-size="12.5" font-weight="bold" text-anchor="start" textLength="7.73" lengthAdjust="spacingAndGlyphs" stroke="#000" stroke-width="0.3">0</text>
<text x="496.63" y="714.35" font-size="12.5" font-weight="bold" text-anchor="start" textLength="7.73" lengthAdjust="spacingAndGlyphs" stroke="#000" stroke-width="0.3">5</text>
<text x="496.67" y="644.20" font-size="12.5" font-weight="bold" text-anchor="start" textLength="15.20" lengthAdjust="spacingAndGlyphs" stroke="#000" stroke-width="0.3">10</text>
<text x="496.66" y="574.05" font-size="12.5" font-weight="bold" text-anchor="start" textLength="15.13" lengthAdjust="spacingAndGlyphs" stroke="#000" stroke-width="0.3">15</text>
<text x="496.67" y="503.90" font-size="12.5" font-weight="bold" text-anchor="start" textLength="15.20" lengthAdjust="spacingAndGlyphs" stroke="#000" stroke-width="0.3">20</text>
<text x="438.04" y="484.00" font-size="13.5" font-weight="normal" text-anchor="start" textLength="28.07" lengthAdjust="spacingAndGlyphs" stroke="#000" stroke-width="0.22">Male</text>
<text x="438.07" y="503.90" font-size="13.5" font-weight="normal" text-anchor="start" textLength="41.75" lengthAdjust="spacingAndGlyphs" stroke="#000" stroke-width="0.22">Female</text>
<text transform="translate(13.50,635.17) rotate(-90)" font-size="14" font-weight="bold" text-anchor="middle" textLength="222.90" lengthAdjust="spacingAndGlyphs" stroke="#000" stroke-width="0.3">Value (Hardness, HRR60s)</text>
<text transform="translate(526.20,634.67) rotate(-90)" font-size="14" font-weight="bold" text-anchor="middle" textLength="220.73" lengthAdjust="spacingAndGlyphs" stroke="#000" stroke-width="0.3">Value (Lactate, TQR, VAS)</text>
<text transform="translate(106.48,823.28) scale(0.887,1) rotate(-45)" font-size="13.5" font-weight="bold" text-anchor="end" textLength="55.48" lengthAdjust="spacingAndGlyphs" stroke="#000" stroke-width="0.3">Lactate</text>
<text transform="translate(188.05,822.54) scale(0.887,1) rotate(-45)" font-size="13.5" font-weight="bold" text-anchor="end" textLength="70.17" lengthAdjust="spacingAndGlyphs" stroke="#000" stroke-width="0.3">Hardness</text>
<text transform="translate(269.21,822.91) scale(0.887,1) rotate(-45)" font-size="13.5" font-weight="bold" text-anchor="end" textLength="57.18" lengthAdjust="spacingAndGlyphs" stroke="#000" stroke-width="0.3">HRR60s</text>
<text transform="translate(349.61,822.48) scale(0.887,1) rotate(-45)" font-size="13.5" font-weight="bold" text-anchor="end" textLength="29.37" lengthAdjust="spacingAndGlyphs" stroke="#000" stroke-width="0.3">TQR</text>
<text transform="translate(431.31,822.53) scale(0.887,1) rotate(-45)" font-size="13.5" font-weight="bold" text-anchor="end" textLength="28.07" lengthAdjust="spacingAndGlyphs" stroke="#000" stroke-width="0.3">VAS</text>
<polyline fill="none" stroke="#3b528b" stroke-width="2.1" points="602.5,478.0 735.5,486.6 868.7,498.4 1001.9,507.6"/>
<circle cx="602.5" cy="478.0" r="3.7" fill="#3b528b" stroke="#111" stroke-width="1.1"/>
<circle cx="735.5" cy="486.6" r="3.7" fill="#3b528b" stroke="#111" stroke-width="1.1"/>
<circle cx="868.7" cy="498.4" r="3.7" fill="#3b528b" stroke="#111" stroke-width="1.1"/>
<circle cx="1001.9" cy="507.6" r="3.7" fill="#3b528b" stroke="#111" stroke-width="1.1"/>
<polyline fill="none" stroke="#21918c" stroke-width="2.1" points="602.5,792.7 735.5,790.6 868.7,789.1 1001.9,786.2"/>
<circle cx="602.5" cy="792.7" r="3.7" fill="#21918c" stroke="#111" stroke-width="1.1"/>
<circle cx="735.5" cy="790.6" r="3.7" fill="#21918c" stroke="#111" stroke-width="1.1"/>
<circle cx="868.7" cy="789.1" r="3.7" fill="#21918c" stroke="#111" stroke-width="1.1"/>
<circle cx="1001.9" cy="786.2" r="3.7" fill="#21918c" stroke="#111" stroke-width="1.1"/>
<rect x="920.3" y="468.4" width="95.5" height="102.1" rx="2.5" fill="#fff" fill-opacity="0.8" stroke="#d6d6d6" stroke-width="1"/>
<line x1="924.40" y1="480.20" x2="948.30" y2="480.20" stroke="#3b528b" stroke-width="2.1"/>
<line x1="924.40" y1="500.00" x2="948.30" y2="500.00" stroke="#21918c" stroke-width="2.1"/>
<line x1="924.40" y1="519.50" x2="948.30" y2="519.50" stroke="#440154" stroke-width="2.1" stroke-dasharray="6.2,2.7"/>
<line x1="924.40" y1="539.10" x2="948.30" y2="539.10" stroke="#22c55e" stroke-width="2.1" stroke-dasharray="6.2,2.7"/>
<line x1="924.40" y1="558.50" x2="948.30" y2="558.50" stroke="#fde725" stroke-width="2.1" stroke-dasharray="6.2,2.7"/>
<text x="957.70" y="484.40" font-size="12.8" font-weight="normal" text-anchor="start" textLength="53.41" lengthAdjust="spacingAndGlyphs" stroke="#000" stroke-width="0.22">Hardness</text>
<text x="957.77" y="504.20" font-size="12.8" font-weight="normal" text-anchor="start" textLength="44.29" lengthAdjust="spacingAndGlyphs" stroke="#000" stroke-width="0.22">HRR60s</text>
<text x="957.65" y="523.70" font-size="12.8" font-weight="normal" text-anchor="start" textLength="42.03" lengthAdjust="spacingAndGlyphs" stroke="#000" stroke-width="0.22">Lactate</text>
<text x="957.71" y="543.30" font-size="12.8" font-weight="normal" text-anchor="start" textLength="23.94" lengthAdjust="spacingAndGlyphs" stroke="#000" stroke-width="0.22">TQR</text>
<text x="957.70" y="562.70" font-size="12.8" font-weight="normal" text-anchor="start" textLength="22.03" lengthAdjust="spacingAndGlyphs" stroke="#000" stroke-width="0.22">VAS</text>
<polyline fill="none" stroke="#440154" stroke-width="2.1" stroke-dasharray="6.2,2.7" points="602.5,760.3 735.5,764.7 868.7,769.8 1001.9,774.2"/>
<rect x="598.4" y="756.1999999999999" width="8.2" height="8.2" fill="#440154" stroke="#111" stroke-width="1.2"/>
<rect x="731.4" y="760.6" width="8.2" height="8.2" fill="#440154" stroke="#111" stroke-width="1.2"/>
<rect x="864.6" y="765.6999999999999" width="8.2" height="8.2" fill="#440154" stroke="#111" stroke-width="1.2"/>
<rect x="997.8" y="770.1" width="8.2" height="8.2" fill="#440154" stroke="#111" stroke-width="1.2"/>
<polyline fill="none" stroke="#22c55e" stroke-width="2.1" stroke-dasharray="6.2,2.7" points="602.5,512.0 735.5,498.4 868.7,485.3 1001.9,477.6"/>
<rect x="598.4" y="507.9" width="8.2" height="8.2" fill="#22c55e" stroke="#111" stroke-width="1.2"/>
<rect x="731.4" y="494.29999999999995" width="8.2" height="8.2" fill="#22c55e" stroke="#111" stroke-width="1.2"/>
<rect x="864.6" y="481.2" width="8.2" height="8.2" fill="#22c55e" stroke="#111" stroke-width="1.2"/>
<rect x="997.8" y="473.5" width="8.2" height="8.2" fill="#22c55e" stroke="#111" stroke-width="1.2"/>
<polyline fill="none" stroke="#fde725" stroke-width="2.1" stroke-dasharray="6.2,2.7" points="602.5,772.9 735.5,775.6 868.7,785.4 1001.9,792.2"/>
<rect x="598.4" y="768.8" width="8.2" height="8.2" fill="#fde725" stroke="#111" stroke-width="1.2"/>
<rect x="731.4" y="771.5" width="8.2" height="8.2" fill="#fde725" stroke="#111" stroke-width="1.2"/>
<rect x="864.6" y="781.3" width="8.2" height="8.2" fill="#fde725" stroke="#111" stroke-width="1.2"/>
<rect x="997.8" y="788.1" width="8.2" height="8.2" fill="#fde725" stroke="#111" stroke-width="1.2"/>
<line x1="582.5" y1="461.5" x2="582.5" y2="809.0" stroke="#777" stroke-width="1.4"/>
<line x1="1022.1" y1="461.5" x2="1022.1" y2="809.0" stroke="#8a8a8a" stroke-width="1.4"/>
<line x1="581.8" y1="462.2" x2="1022.8000000000001" y2="462.2" stroke="#222" stroke-width="1.4"/>
<line x1="581.8" y1="808.3" x2="1022.8000000000001" y2="808.3" stroke="#555" stroke-width="1.4"/>
<line x1="579.30" y1="767.40" x2="582.70" y2="767.40" stroke="#000" stroke-width="1.2"/>
<line x1="579.30" y1="710.42" x2="582.70" y2="710.42" stroke="#000" stroke-width="1.2"/>
<line x1="579.30" y1="653.44" x2="582.70" y2="653.44" stroke="#000" stroke-width="1.2"/>
<line x1="579.30" y1="596.46" x2="582.70" y2="596.46" stroke="#000" stroke-width="1.2"/>
<line x1="579.30" y1="539.48" x2="582.70" y2="539.48" stroke="#000" stroke-width="1.2"/>
<line x1="579.30" y1="482.50" x2="582.70" y2="482.50" stroke="#000" stroke-width="1.2"/>
<line x1="1022.20" y1="769.40" x2="1025.60" y2="769.40" stroke="#000" stroke-width="1.2"/>
<line x1="1022.20" y1="727.20" x2="1025.60" y2="727.20" stroke="#000" stroke-width="1.2"/>
<line x1="1022.20" y1="685.00" x2="1025.60" y2="685.00" stroke="#000" stroke-width="1.2"/>
<line x1="1022.20" y1="642.80" x2="1025.60" y2="642.80" stroke="#000" stroke-width="1.2"/>
<line x1="1022.20" y1="600.60" x2="1025.60" y2="600.60" stroke="#000" stroke-width="1.2"/>
<line x1="1022.20" y1="558.40" x2="1025.60" y2="558.40" stroke="#000" stroke-width="1.2"/>
<line x1="1022.20" y1="516.20" x2="1025.60" y2="516.20" stroke="#000" stroke-width="1.2"/>
<line x1="1022.20" y1="474.00" x2="1025.60" y2="474.00" stroke="#000" stroke-width="1.2"/>
<line x1="602.50" y1="808.30" x2="602.50" y2="811.70" stroke="#000" stroke-width="1.2"/>
<line x1="735.50" y1="808.30" x2="735.50" y2="811.70" stroke="#000" stroke-width="1.2"/>
<line x1="868.70" y1="808.30" x2="868.70" y2="811.70" stroke="#000" stroke-width="1.2"/>
<line x1="1001.90" y1="808.30" x2="1001.90" y2="811.70" stroke="#000" stroke-width="1.2"/>
<text x="801.95" y="456.00" font-size="16.2" font-weight="bold" text-anchor="middle" textLength="349.87" lengthAdjust="spacingAndGlyphs" stroke="#000" stroke-width="0.3">D) Recovery Markers by Maturity Quartile</text>
<text x="576.69" y="772.10" font-size="12.5" font-weight="bold" text-anchor="end" textLength="16.36" lengthAdjust="spacingAndGlyphs" stroke="#000" stroke-width="0.3">50</text>
<text x="576.66" y="715.12" font-size="12.5" font-weight="bold" text-anchor="end" textLength="23.89" lengthAdjust="spacingAndGlyphs" stroke="#000" stroke-width="0.3">100</text>
<text x="576.66" y="658.14" font-size="12.5" font-weight="bold" text-anchor="end" textLength="23.89" lengthAdjust="spacingAndGlyphs" stroke="#000" stroke-width="0.3">150</text>
<text x="576.64" y="601.16" font-size="12.5" font-weight="bold" text-anchor="end" textLength="22.70" lengthAdjust="spacingAndGlyphs" stroke="#000" stroke-width="0.3">200</text>
<text x="576.64" y="544.18" font-size="12.5" font-weight="bold" text-anchor="end" textLength="22.70" lengthAdjust="spacingAndGlyphs" stroke="#000" stroke-width="0.3">250</text>
<text x="576.65" y="487.20" font-size="12.5" font-weight="bold" text-anchor="end" textLength="22.85" lengthAdjust="spacingAndGlyphs" stroke="#000" stroke-width="0.3">300</text>
<text x="1028.93" y="774.10" font-size="12.5" font-weight="bold" text-anchor="start" textLength="7.86" lengthAdjust="spacingAndGlyphs" stroke="#000" stroke-width="0.3">2</text>
<text x="1028.88" y="731.90" font-size="12.5" font-weight="bold" text-anchor="start" textLength="6.98" lengthAdjust="spacingAndGlyphs" stroke="#000" stroke-width="0.3">4</text>
<text x="1028.93" y="689.70" font-size="12.5" font-weight="bold" text-anchor="start" textLength="7.86" lengthAdjust="spacingAndGlyphs" stroke="#000" stroke-width="0.3">6</text>
<text x="1028.93" y="647.50" font-size="12.5" font-weight="bold" text-anchor="start" textLength="7.86" lengthAdjust="spacingAndGlyphs" stroke="#000" stroke-width="0.3">8</text>
<text x="1028.02" y="605.30" font-size="12.5" font-weight="bold" text-anchor="start" textLength="16.21" lengthAdjust="spacingAndGlyphs" stroke="#000" stroke-width="0.3">10</text>
<text x="1027.99" y="563.10" font-size="12.5" font-weight="bold" text-anchor="start" textLength="16.28" lengthAdjust="spacingAndGlyphs" stroke="#000" stroke-width="0.3">12</text>
<text x="1028.01" y="520.90" font-size="12.5" font-weight="bold" text-anchor="start" textLength="15.20" lengthAdjust="spacingAndGlyphs" stroke="#000" stroke-width="0.3">14</text>
<text x="1027.99" y="478.70" font-size="12.5" font-weight="bold" text-anchor="start" textLength="16.28" lengthAdjust="spacingAndGlyphs" stroke="#000" stroke-width="0.3">16</text>
<text x="602.48" y="824.80" font-size="12.5" font-weight="bold" text-anchor="middle" textLength="16.04" lengthAdjust="spacingAndGlyphs" stroke="#000" stroke-width="0.3">Q1</text>
<text x="736.04" y="824.80" font-size="12.5" font-weight="bold" text-anchor="middle" textLength="17.05" lengthAdjust="spacingAndGlyphs" stroke="#000" stroke-width="0.3">Q2</text>
<text x="868.55" y="824.80" font-size="12.5" font-weight="bold" text-anchor="middle" textLength="16.98" lengthAdjust="spacingAndGlyphs" stroke="#000" stroke-width="0.3">Q3</text>
<text x="1001.73" y="824.80" font-size="12.5" font-weight="bold" text-anchor="middle" textLength="15.98" lengthAdjust="spacingAndGlyphs" stroke="#000" stroke-width="0.3">Q4</text>
<text transform="translate(546.00,635.16) rotate(-90)" font-size="14" font-weight="bold" text-anchor="middle" textLength="222.43" lengthAdjust="spacingAndGlyphs" stroke="#000" stroke-width="0.3">Mean (Hardness, HRR60s)</text>
<text transform="translate(1056.50,635.66) rotate(-90)" font-size="14" font-weight="bold" text-anchor="middle" textLength="219.04" lengthAdjust="spacingAndGlyphs" stroke="#000" stroke-width="0.3">Mean (Lactate, TQR, VAS)</text>
</svg></body></html>
